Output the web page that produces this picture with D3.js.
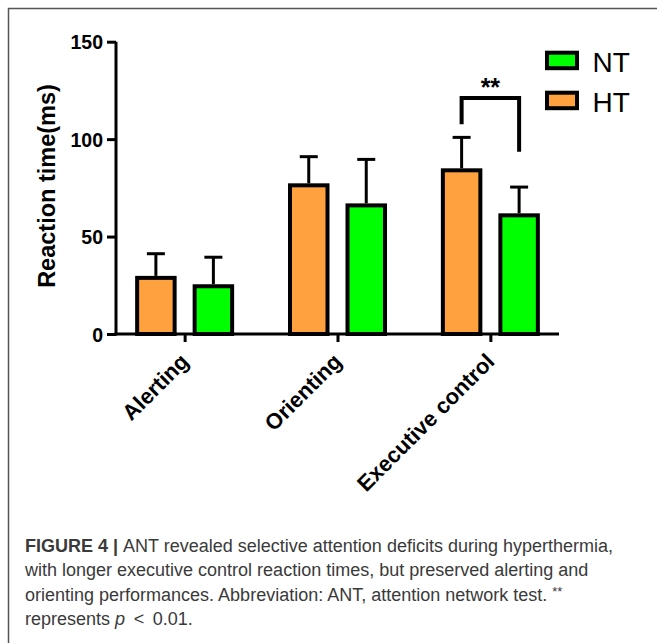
<!DOCTYPE html>
<html>
<head>
<meta charset="utf-8">
<script src="https://cdn.jsdelivr.net/npm/d3@7"></script>
<style>
    body { margin: 0; background: #fff; }
    text { font-family: "Liberation Sans", Arial, sans-serif; }
</style>
</head>
<body>
<div id="barChart"></div>
<script>
//Categories and groups
const categories = ["Alerting", "Orienting", "Executive control"];
const seriesNames = ["HT", "NT"];
const legendOrder = ["NT", "HT"];

//Means and error bars (ms)
const htMeans = [28.8, 76.3, 84.0];
const htErrors = [12.4, 14.7, 16.9];
const ntMeans = [24.5, 66.0, 60.9];
const ntErrors = [14.9, 23.6, 14.5];

//Tick values for y axis
const yTicks = [0, 50, 100, 150];

//Significance bracket over executive control (left foot, top, right foot)
const bracketCategory = "Executive control";
const bracketLevels = [107.6, 121.1, 93.5];
const bracketLabel = "**";

//Caption lines
const captionLines = [
    [{t: "FIGURE 4 | ", b: true}, {t: "ANT revealed selective attention deficits during hyperthermia,"}],
    [{t: "with longer executive control reaction times, but preserved alerting and"}],
    [{t: "orienting performances. Abbreviation: ANT, attention network test. "}, {t: "**", s: true}],
    [{t: "represents "}, {t: "p", i: true}, {t: " \u2009<\u2009 0.01."}]
];

const colours = {HT: "#FFA13F", NT: "#00FF00"};

class BarChart
{
    constructor()
    {
        this.div = d3.select("#barChart");
        this.svg = this.div.append("svg")
            .attr("width", 657)
            .attr("height", 643);

        //Plot area in page pixels
        this.left = 116;
        this.right = 559;
        this.top = 41.7;
        this.bottom = 334;
    }

    plot()
    {
        let svg = this.svg;

        //Frame round the figure
        svg.append("path")
            .attr("d", "M8.5,660 L8.5,8.5 L670,8.5")
            .attr("fill", "none")
            .attr("stroke", "#555")
            .attr("stroke-width", 1.5);

        //Rows for each bar
        let rows = [];
        categories.forEach((c, i) => {
            rows.push({cat: c, group: "HT", mean: htMeans[i], err: htErrors[i]});
            rows.push({cat: c, group: "NT", mean: ntMeans[i], err: ntErrors[i]});
        });

        //Scales
        let x0 = d3.scalePoint()
            .domain(categories)
            .range([this.left, this.right])
            .padding(0.449);

        let x1 = d3.scaleBand()
            .domain(seriesNames)
            .range([-57.5, 57.5])
            .paddingInner(0.348)
            .paddingOuter(0.174);

        let y = d3.scaleLinear()
            .domain([0, 150])
            .range([this.bottom, this.top]);

        //Bars
        svg.append("g").selectAll("rect")
            .data(rows)
            .enter().append("rect")
            .attr("x", (d) => x0(d.cat) + x1(d.group))
            .attr("y", (d) => y(d.mean))
            .attr("width", x1.bandwidth())
            .attr("height", (d) => y(0) - y(d.mean))
            .attr("fill", (d) => colours[d.group])
            .attr("stroke", "#000")
            .attr("stroke-width", 4);

        //Error bars (upper only)
        let errs = svg.append("g")
            .attr("stroke", "#000")
            .attr("stroke-width", 3)
            .selectAll("g")
            .data(rows)
            .enter().append("g")
            .attr("transform", (d) => "translate(" + (x0(d.cat) + x1(d.group) + x1.bandwidth() / 2) + ",0)");

        errs.append("line")
            .attr("y1", (d) => y(d.mean) - 2)
            .attr("y2", (d) => y(d.mean + d.err));

        errs.append("line")
            .attr("x1", -9)
            .attr("x2", 9)
            .attr("y1", (d) => y(d.mean + d.err))
            .attr("y2", (d) => y(d.mean + d.err));

        //Y axis
        let yAxis = svg.append("g")
            .attr("transform", "translate(" + this.left + ",0)")
            .call(d3.axisLeft(y).tickValues(yTicks).tickSize(9).tickPadding(4));

        yAxis.select(".domain").attr("stroke-width", 3).attr("d", "M0," + y(150) + "V" + (this.bottom + 1.5));
        yAxis.selectAll(".tick line").attr("stroke-width", 3);
        yAxis.selectAll(".tick text")
            .attr("font-size", 19.5)
            .attr("font-weight", "bold")
            .attr("fill", "#000")
            .attr("dy", "0.36em");

        //X axis
        let xAxis = svg.append("g")
            .attr("transform", "translate(0," + this.bottom + ")")
            .call(d3.axisBottom(x0).tickSize(8).tickSizeOuter(0));

        xAxis.select(".domain").attr("stroke-width", 3).attr("d", "M" + (this.left - 1.5) + ",0H" + this.right);
        xAxis.selectAll(".tick line").attr("stroke-width", 3);
        xAxis.selectAll(".tick text")
            .attr("font-size", 22)
            .attr("font-weight", "bold")
            .attr("fill", "#000")
            .attr("text-anchor", "end")
            .attr("y", 0)
            .attr("dy", 0)
            .attr("transform", "translate(5,29) rotate(-45)");

        //Y label
        svg.append("text")
            .attr("transform", "translate(55," + 186 + ") rotate(-90)")
            .attr("text-anchor", "middle")
            .attr("font-size", 23.5)
            .attr("font-weight", "bold")
            .attr("fill", "#000")
            .text("Reaction time(ms)");

        //Significance bracket
        let bx = x0(bracketCategory);
        let bl = bx + x1("HT") + x1.bandwidth() / 2;
        let br = bx + x1("NT") + x1.bandwidth() / 2;
        svg.append("path")
            .attr("d", "M" + bl + "," + y(bracketLevels[0]) + "V" + y(bracketLevels[1]) +
                "H" + br + "V" + y(bracketLevels[2]))
            .attr("fill", "none")
            .attr("stroke", "#000")
            .attr("stroke-width", 4);

        svg.append("text")
            .attr("x", bx)
            .attr("y", y(bracketLevels[1]) - 2)
            .attr("text-anchor", "middle")
            .attr("font-size", 25)
            .attr("font-weight", "bold")
            .attr("fill", "#000")
            .text(bracketLabel);

        //Legend
        let legend = svg.append("g").selectAll("g")
            .data(legendOrder)
            .enter().append("g")
            .attr("transform", (d, i) => "translate(547," + (52.7 + i * 40) + ")");

        legend.append("rect")
            .attr("width", 30)
            .attr("height", 15.5)
            .attr("fill", (d) => colours[d])
            .attr("stroke", "#000")
            .attr("stroke-width", 4);

        legend.append("text")
            .attr("x", 45.5)
            .attr("y", 19)
            .attr("font-size", 28)
            .attr("fill", "#000")
            .text((d) => d);

        //Caption
        let cap = svg.append("g")
            .attr("fill", "#3a3a3a")
            .attr("font-size", 18);

        captionLines.forEach((line, i) => {
            let t = cap.append("text")
                .attr("x", 25)
                .attr("y", 551.7 + i * 24.4);
            line.forEach((p) => {
                t.append("tspan")
                    .attr("font-weight", p.b ? "bold" : null)
                    .attr("font-style", p.i ? "italic" : null)
                    .attr("font-size", p.s ? 13 : null)
                    .attr("dy", p.s ? -5 : null)
                    .text(p.t);
            });
        });
    }
}

let chart = new BarChart();
chart.plot();
</script>
</body>
</html>
